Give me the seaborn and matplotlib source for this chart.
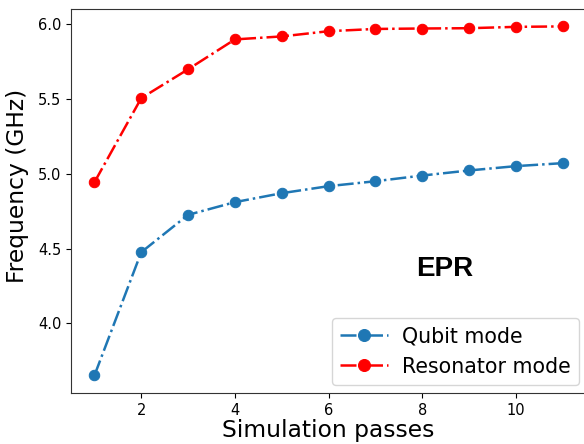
import matplotlib
matplotlib.use("Agg")
import matplotlib.pyplot as plt
import seaborn as sns
import pandas as pd

passes = [1, 2, 3, 4, 5, 6, 7, 8, 9, 10, 11]
qubit = [3.651, 4.476, 4.726, 4.811, 4.871, 4.918, 4.951, 4.989, 5.023, 5.052, 5.072]
resonator = [4.944, 5.507, 5.700, 5.900, 5.920, 5.955, 5.970, 5.973, 5.975, 5.984, 5.987]
labels = ["Qubit mode", "Resonator mode"]
colors = ["#1f77b4", "#ff0000"]

df = pd.DataFrame({
    "passes": passes * 2,
    "freq": qubit + resonator,
    "mode": [labels[0]] * len(passes) + [labels[1]] * len(passes),
})

fig = plt.figure(figsize=(5.84, 4.44), dpi=100)
ax = fig.add_axes([0.1216, 0.1149, 0.882, 0.865])

for lab, col in zip(labels, colors):
    sub = df[df["mode"] == lab]
    sns.lineplot(data=sub, x="passes", y="freq", ax=ax, color=col,
                 marker="o", markersize=7.5, markeredgecolor=col,
                 linestyle="-.", linewidth=1.8, label=lab)

ax.set_xticks([2, 4, 6, 8, 10])
ax.set_yticks([4.0, 4.5, 5.0, 5.5, 6.0])
ax.set_xlim(0.5, 11.5)
ax.set_ylim(3.534, 6.104)
ax.tick_params(labelsize=10.5)
ax.set_xlabel("Simulation passes", fontsize=16.8, labelpad=1)
ax.set_ylabel("Frequency (GHz)", fontsize=16.8, labelpad=3)
ax.yaxis.set_label_coords(-0.082, 0.54)
ax.text(8.49, 4.367, "EPR", fontsize=20, fontweight="bold",
        family="Liberation Sans", ha="center", va="center")
ax.legend(loc="lower right", fontsize=14.8, markerscale=1.15,
          handlelength=2.3, handletextpad=0.7, borderaxespad=0.4,
          bbox_to_anchor=(1.002, 0.0))
for s in ax.spines.values():
    s.set_color("#333333")

fig.savefig("out.png", dpi=100)
